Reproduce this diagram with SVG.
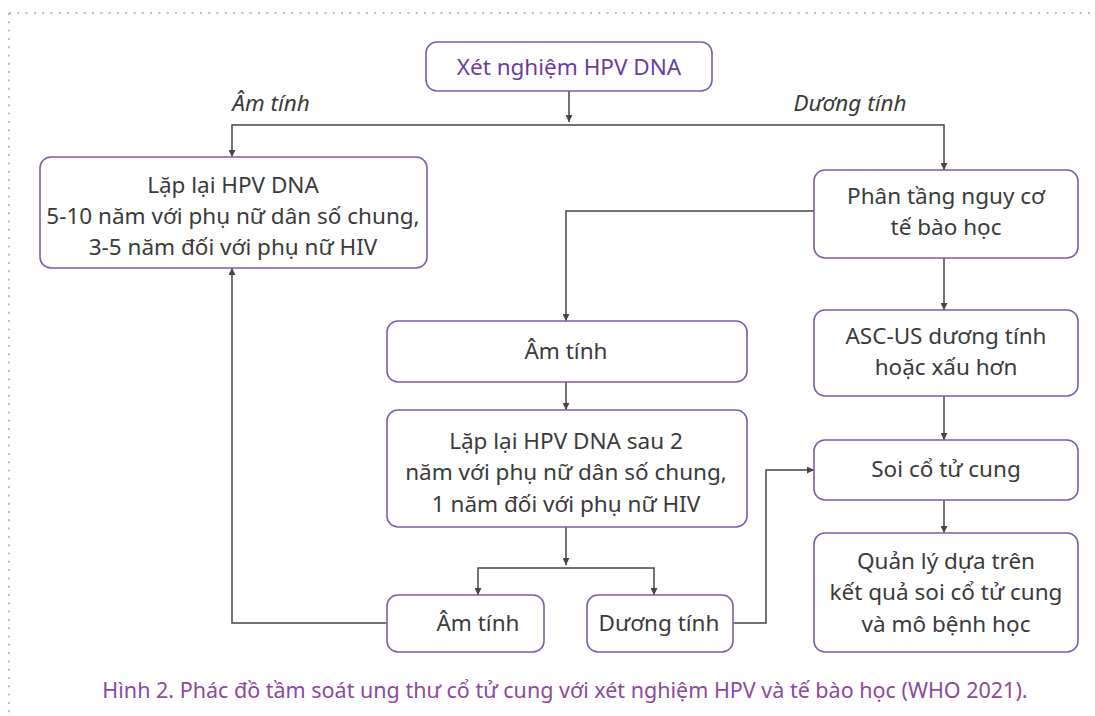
<svg xmlns="http://www.w3.org/2000/svg" width="1095" height="716" viewBox="0 0 1095 716">
<style>
.box{fill:#fff;stroke:#7d5bb0;stroke-width:1.6}
.t{font-family:"Noto Sans","Liberation Sans",sans-serif;font-size:22.5px;fill:#3a3a3a;text-anchor:middle}
.tp{fill:#6a3d9e}
.lbl{font-style:italic}
.c{fill:none;stroke:#454545;stroke-width:1.5}
.cap{font-family:"Noto Sans","Liberation Sans",sans-serif;font-size:21.5px;fill:#8b4a9c;text-anchor:middle}
.dot{fill:none;stroke:#bdbdbd;stroke-width:2;stroke-dasharray:2 6.3}
</style>
<defs>
<marker id="ah" viewBox="0 0 10 10" refX="10" refY="5" markerWidth="7" markerHeight="7" markerUnits="userSpaceOnUse" orient="auto">
<path d="M0,0 L10,5 L0,10 z" fill="#454545"/>
</marker>
</defs>
<rect width="1095" height="716" fill="#fff"/>
<g id="border">
<line class="dot" x1="9" y1="13" x2="1092" y2="13"/>
<line class="dot" x1="9" y1="13" x2="9" y2="716"/>
</g>
<g id="connectors">
<path class="c" d="M569,91 V122" marker-end="url(#ah)"/>
<path class="c" d="M569,125 H232 V157" marker-end="url(#ah)"/>
<path class="c" d="M569,125 H944 V170" marker-end="url(#ah)"/>
<path class="c" d="M814,211 H566 V321" marker-end="url(#ah)"/>
<path class="c" d="M944,258 V310" marker-end="url(#ah)"/>
<path class="c" d="M944,396 V440" marker-end="url(#ah)"/>
<path class="c" d="M944,500 V533" marker-end="url(#ah)"/>
<path class="c" d="M566,382 V410" marker-end="url(#ah)"/>
<path class="c" d="M566,527 V565" marker-end="url(#ah)"/>
<path class="c" d="M566,568 H654 V595" marker-end="url(#ah)"/>
<path class="c" d="M566,568 H478 V595" marker-end="url(#ah)"/>
<path class="c" d="M387,623 H232 V268" marker-end="url(#ah)"/>
<path class="c" d="M733,623 H766 V470 H814" marker-end="url(#ah)"/>
<text class="t lbl" x="271" y="111">Âm tính</text>
<text class="t lbl" x="850" y="111">Dương tính</text>
</g>
<g id="n-test">
<rect class="box" x="426" y="42" width="286" height="49" rx="11"/>
<text class="t tp" x="569" y="75">Xét nghiệm HPV DNA</text>
</g>
<g id="n-repeat1">
<rect class="box" x="40" y="157" width="387" height="111" rx="11"/>
<text class="t" x="233" y="193">Lặp lại HPV DNA</text>
<text class="t" x="233" y="224">5-10 năm với phụ nữ dân số chung,</text>
<text class="t" x="233" y="255">3-5 năm đối với phụ nữ HIV</text>
</g>
<g id="n-triage">
<rect class="box" x="814" y="170" width="264" height="88" rx="11"/>
<text class="t" x="946" y="204">Phân tầng nguy cơ</text>
<text class="t" x="946" y="235">tế bào học</text>
</g>
<g id="n-neg1">
<rect class="box" x="387" y="321" width="360" height="61" rx="11"/>
<text class="t" x="566" y="359">Âm tính</text>
</g>
<g id="n-ascus">
<rect class="box" x="814" y="310" width="264" height="86" rx="11"/>
<text class="t" x="946" y="344">ASC-US dương tính</text>
<text class="t" x="946" y="375">hoặc xấu hơn</text>
</g>
<g id="n-repeat2">
<rect class="box" x="387" y="410" width="360" height="117" rx="11"/>
<text class="t" x="566" y="449">Lặp lại HPV DNA sau 2</text>
<text class="t" x="566" y="480">năm với phụ nữ dân số chung,</text>
<text class="t" x="566" y="512">1 năm đối với phụ nữ HIV</text>
</g>
<g id="n-colpo">
<rect class="box" x="814" y="440" width="264" height="60" rx="11"/>
<text class="t" x="946" y="477">Soi cổ tử cung</text>
</g>
<g id="n-manage">
<rect class="box" x="814" y="533" width="264" height="119" rx="11"/>
<text class="t" x="946" y="569">Quản lý dựa trên</text>
<text class="t" x="946" y="600">kết quả soi cổ tử cung</text>
<text class="t" x="946" y="632">và mô bệnh học</text>
</g>
<g id="n-neg2">
<rect class="box" x="387" y="595" width="157" height="57" rx="11"/>
<text class="t" x="478" y="631">Âm tính</text>
</g>
<g id="n-pos2">
<rect class="box" x="587" y="595" width="146" height="57" rx="11"/>
<text class="t" x="659" y="631">Dương tính</text>
</g>
<text class="cap" x="565" y="698">Hình 2. Phác đồ tầm soát ung thư cổ tử cung với xét nghiệm HPV và tế bào học (WHO 2021).</text>
</svg>
